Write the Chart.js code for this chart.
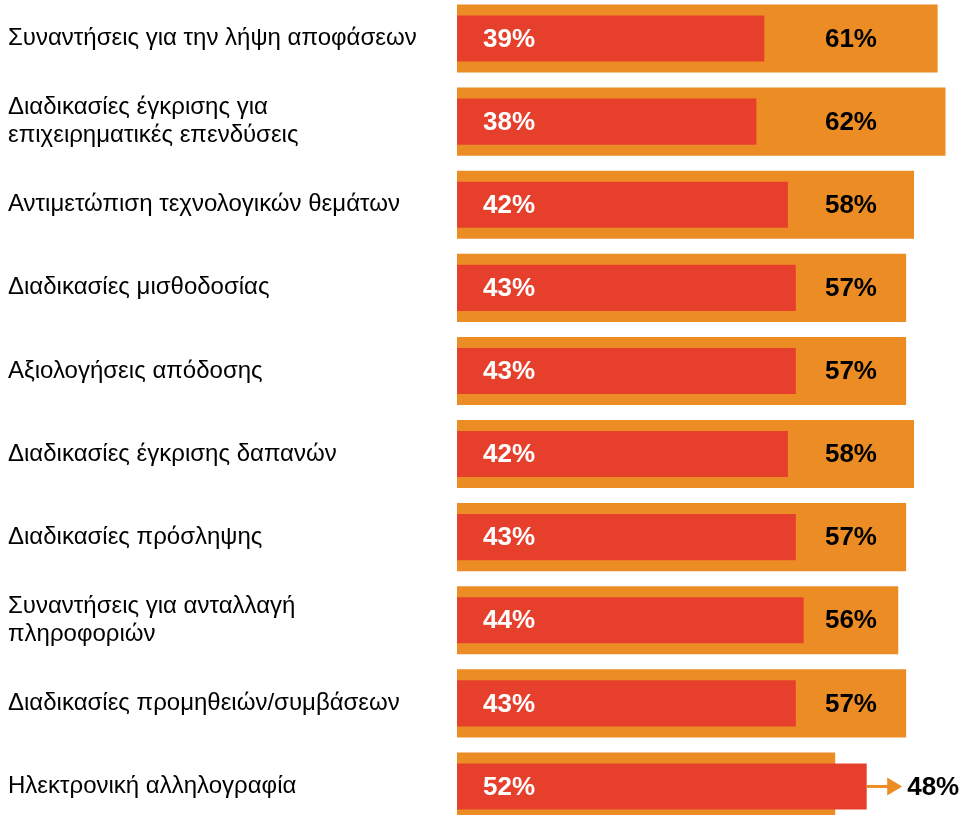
<!DOCTYPE html>
<html>
<head>
<meta charset="utf-8">
<script src="https://cdn.jsdelivr.net/npm/chart.js@4.4.1/dist/chart.umd.min.js"></script>
<style>
  html, body { margin: 0; padding: 0; background: #fff; overflow: hidden; }
  #wrap { position: absolute; left: 0; top: -3px; width: 966px; height: 831px; }
</style>
</head>
<body>
<div id="wrap"><canvas id="myChart"></canvas></div>
<script>
const categories = [
  'Συναντήσεις για την λήψη αποφάσεων',
  ['Διαδικασίες έγκρισης για', 'επιχειρηματικές επενδύσεις'],
  'Αντιμετώπιση τεχνολογικών θεμάτων',
  'Διαδικασίες μισθοδοσίας',
  'Αξιολογήσεις απόδοσης',
  'Διαδικασίες έγκρισης δαπανών',
  'Διαδικασίες πρόσληψης',
  ['Συναντήσεις για ανταλλαγή', 'πληροφοριών'],
  'Διαδικασίες προμηθειών/συμβάσεων',
  'Ηλεκτρονική αλληλογραφία'
];
const redValues = [39, 38, 42, 43, 43, 42, 43, 44, 43, 52];
const orangeValues = [61, 62, 58, 57, 57, 58, 57, 56, 57, 48];

const RED = '#E6402D';
const ORANGE = '#EC8C24';

// percent labels + arrow for the row where red is longer than orange
const valueLabels = {
  id: 'valueLabels',
  afterDatasetsDraw(chart) {
    const c = chart.ctx;
    const x = chart.scales.x;
    const meta = chart.getDatasetMeta(0);
    c.save();
    c.font = 'bold 26px "Liberation Sans", Arial, sans-serif';
    c.textBaseline = 'middle';
    meta.data.forEach((bar, i) => {
      const y = bar.y + 1;
      c.fillStyle = '#fff';
      c.textAlign = 'left';
      c.fillText(redValues[i] + '%', x.getPixelForValue(3.3), y);

      c.fillStyle = '#000';
      if (orangeValues[i] >= redValues[i]) {
        c.textAlign = 'center';
        c.fillText(orangeValues[i] + '%', x.getPixelForValue(50), y);
      } else {
        const x0 = x.getPixelForValue(redValues[i]);
        const tip = x.getPixelForValue(56.5);
        c.strokeStyle = ORANGE;
        c.fillStyle = ORANGE;
        c.lineWidth = 3;
        c.beginPath();
        c.moveTo(x0, bar.y);
        c.lineTo(tip - 14, bar.y);
        c.stroke();
        c.beginPath();
        c.moveTo(tip, bar.y);
        c.lineTo(tip - 15, bar.y - 9);
        c.lineTo(tip - 15, bar.y + 9);
        c.closePath();
        c.fill();
        c.fillStyle = '#000';
        c.textAlign = 'left';
        c.fillText(orangeValues[i] + '%', tip + 5, y);
      }
    });
    c.restore();
  }
};

new Chart(document.getElementById('myChart'), {
  type: 'bar',
  data: {
    labels: categories,
    datasets: [
      {
        label: 'red',
        data: redValues,
        backgroundColor: RED,
        grouped: false,
        barPercentage: 0.555,
        categoryPercentage: 1
      },
      {
        label: 'orange',
        data: orangeValues,
        backgroundColor: ORANGE,
        grouped: false,
        barPercentage: 0.82,
        categoryPercentage: 1
      }
    ]
  },
  options: {
    indexAxis: 'y',
    responsive: true,
    maintainAspectRatio: false,
    animation: false,
    layout: { padding: { left: 8, right: 0, top: 0, bottom: 0 } },
    plugins: {
      legend: { display: false },
      tooltip: { enabled: false }
    },
    scales: {
      x: {
        display: false,
        min: 0,
        max: 64.6
      },
      y: {
        grid: { display: false },
        border: { display: false },
        afterFit(scale) {
          scale.width = 449;
          scale.paddingTop = 0;
          scale.paddingBottom = 0;
        },
        ticks: {
          crossAlign: 'far',
          padding: 0,
          color: '#000',
          font: { family: '"Liberation Sans", Arial, sans-serif', size: 24, lineHeight: 1.17 }
        }
      }
    }
  },
  plugins: [valueLabels]
});
</script>
</body>
</html>
